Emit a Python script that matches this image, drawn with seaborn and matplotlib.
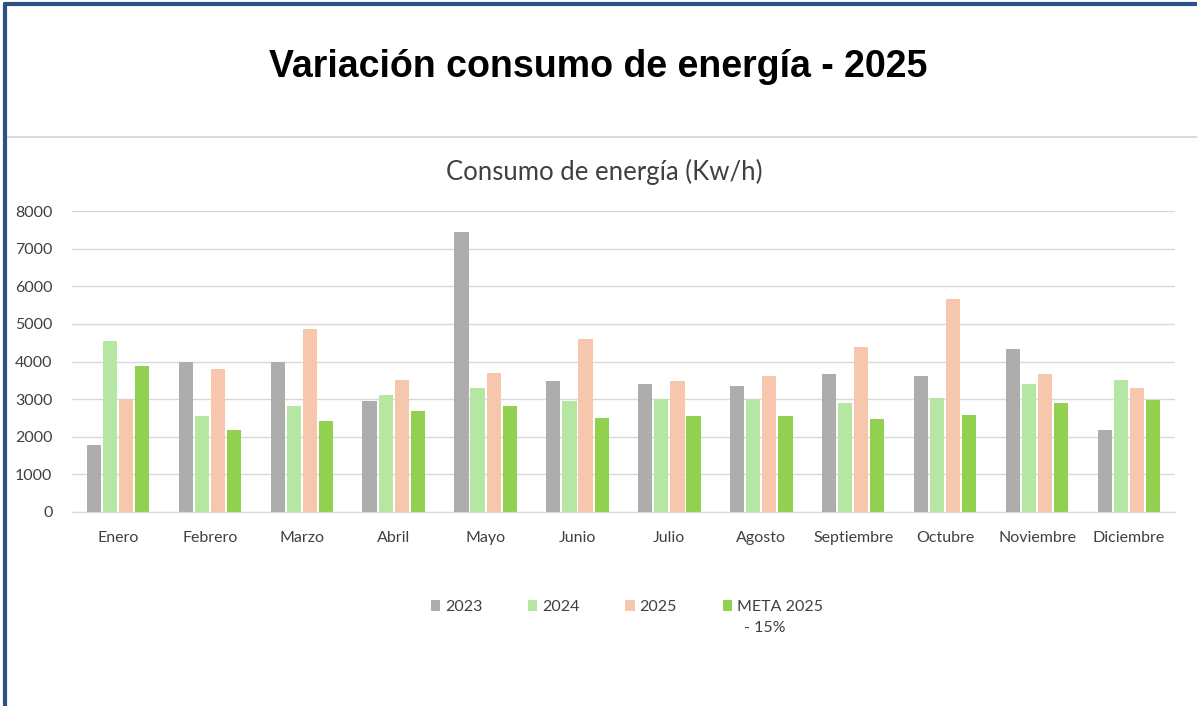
import pandas as pd
import matplotlib.pyplot as plt
import seaborn as sns
from matplotlib.lines import Line2D

# data
meses = ['Enero', 'Febrero', 'Marzo', 'Abril', 'Mayo', 'Junio', 'Julio',
         'Agosto', 'Septiembre', 'Octubre', 'Noviembre', 'Diciembre']
consumo_2023 = [1790, 3980, 3980, 2950, 7440, 3470, 3400, 3340, 3660, 3610, 4320, 2190]
consumo_2024 = [4550, 2550, 2810, 3120, 3300, 2950, 3000, 3000, 2900, 3020, 3390, 3520]
consumo_2025 = [3000, 3800, 4860, 3520, 3700, 4590, 3470, 3620, 4380, 5660, 3660, 3300]
meta_2025 = [3880, 2190, 2420, 2690, 2810, 2500, 2550, 2550, 2460, 2590, 2900, 2990]
series = ['2023', '2024', '2025', 'META 2025']
colores = ['#ADADAD', '#B5E6A2', '#F6C6AD', '#92D050']

rows = []
for nombre, valores in zip(series, [consumo_2023, consumo_2024, consumo_2025, meta_2025]):
    for mes, v in zip(meses, valores):
        rows.append({'Mes': mes, 'Serie': nombre, 'Consumo': v})
df = pd.DataFrame(rows)

sns.set_style('white')
plt.rcParams['font.family'] = ['Lato', 'DejaVu Sans']

fig = plt.figure(figsize=(11.97, 7.06), dpi=100)
ax = fig.add_axes([0.0601, 0.2748, 0.9215, 0.4263])

sns.barplot(data=df, x='Mes', y='Consumo', hue='Serie', palette=colores,
            saturation=1, width=0.7, gap=0.12, ax=ax, legend=True, linewidth=0)

ax.set_ylim(0, 8000)
ax.set_yticks(range(0, 8001, 1000))
ax.yaxis.grid(True, color='#D9D9D9', linewidth=1)
ax.set_axisbelow(True)
for s in ['top', 'right', 'left']:
    ax.spines[s].set_visible(False)
ax.spines['bottom'].set_color('#D9D9D9')
ax.set_xlabel('')
ax.set_ylabel('')
ax.tick_params(axis='both', length=0, labelsize=11.5, colors='#404040')
ax.tick_params(axis='x', pad=14)
ax.tick_params(axis='y', pad=14)

handles, labels = ax.get_legend_handles_labels()
leg = ax.legend(handles, labels, loc='upper center', bbox_to_anchor=(0.503, -0.245), ncol=4,
                frameon=False, fontsize=11.5, handlelength=0.6, handleheight=0.6,
                handletextpad=0.3, columnspacing=2.85)
for t in leg.get_texts():
    t.set_color('#404040')

# second line of the last legend label
fig.canvas.draw()
bb = leg.get_texts()[-1].get_window_extent().transformed(fig.transFigure.inverted())
fig.text(bb.x0 + 0.006, bb.y0 - 0.01, '- 15%', ha='left', va='top',
         fontsize=11.5, color='#404040')

# titles
fig.text(0.5, 0.905, 'Variación consumo de energía - 2025', ha='center', va='center',
         fontsize=27, fontweight='bold', family='Liberation Sans', color='black')
fig.text(0.505, 0.757, 'Consumo de energía (Kw/h)', ha='center', va='center',
         fontsize=18.5, color='#404040')

# separator line and frame borders
fig.add_artist(Line2D([0.007, 1.0], [0.806, 0.806], color='#D9D9D9', linewidth=1.5,
                      transform=fig.transFigure))
fig.add_artist(Line2D([0.004, 1.0], [0.994, 0.994], color='#2A5288', linewidth=3,
                      transform=fig.transFigure))
fig.add_artist(Line2D([0.004, 0.004], [0.0, 0.994], color='#2A5288', linewidth=3,
                      transform=fig.transFigure))

fig.savefig('out.png', dpi=100)
